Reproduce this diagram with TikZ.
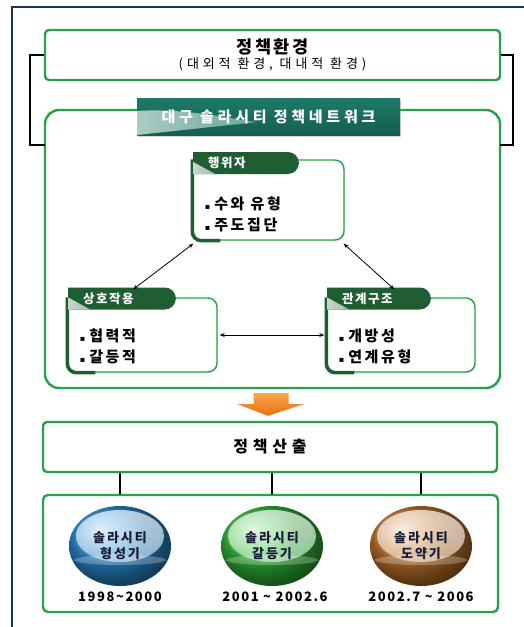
\documentclass[tikz,border=0pt]{standalone}
\usepackage{fontspec}
\setmainfont{Noto Sans CJK KR}
\newfontfamily\symfont{DejaVu Sans}
\usetikzlibrary{arrows.meta,shapes.geometric,shapes.misc,shadows,calc}

\definecolor{frameblue}{HTML}{1B3358}
\definecolor{boxgreen}{HTML}{27A24B}
\definecolor{tabgreen}{HTML}{1F5E33}
\definecolor{tealmain}{HTML}{1E7A68}
\definecolor{tealdark}{HTML}{155E50}
\definecolor{arrlight}{HTML}{FBA54A}
\definecolor{arrdark}{HTML}{E8700F}
\definecolor{textnavy}{HTML}{1A1A3A}
\definecolor{ballblue}{HTML}{2C92DC}
\definecolor{ballgreen}{HTML}{34C13C}
\definecolor{ballbrown}{HTML}{C97A2C}

\newcommand{\bul}{{\symfont\fontsize{8}{8}\selectfont ▪}\hspace{4pt}}

\begin{document}
\begin{tikzpicture}[x=1pt,y=-1pt,
  greenbox/.style={draw=boxgreen,line width=2.4pt,fill=white,rounded corners=4pt,
    drop shadow={shadow xshift=1pt,shadow yshift=-1pt,opacity=.25}},
  tabbox/.style={rounded rectangle,rounded rectangle west arc=none,fill=tabgreen,
    text=white,minimum height=22pt,inner xsep=15pt,align=left,
    font=\fontsize{12.5}{14}\selectfont\bfseries\addfontfeatures{LetterSpace=12},
    path picture={\shade[left color=white!75!tabgreen,right color=tabgreen]
      (path picture bounding box.south west) -- ++(0,-12) -- ++(22,12) -- cycle;}},
  bodybox/.style={draw=boxgreen,line width=1.4pt,fill=white,rounded corners=9pt,
    drop shadow={shadow xshift=1pt,shadow yshift=-1pt,opacity=.2}},
  listtext/.style={anchor=west,align=left,text=black,
    font=\fontsize{15}{21}\selectfont\bfseries\addfontfeatures{LetterSpace=18}},
  ballnode/.style={ellipse,minimum width=102pt,minimum height=80pt,align=center,
    ball color=#1,
    text=textnavy,font=\fontsize{13}{16}\selectfont\bfseries\addfontfeatures{LetterSpace=15},
    path picture={
      \shade[top color=white,bottom color=#1!45!white,opacity=.7]
        ($(path picture bounding box.north)+(0,30)$) ellipse (44pt and 26pt);
      \fill[white,opacity=.25] ($(path picture bounding box.center)+(0,14)$) ellipse (46pt and 5pt);}},
  yearlbl/.style={text=black,font=\fontsize{13}{15}\selectfont\bfseries\addfontfeatures{LetterSpace=12}},
  both/.style={{Stealth[length=5pt,width=4pt]}-{Stealth[length=5pt,width=4pt]},line width=.8pt},
  bracket/.style={line width=2pt,black},
  link/.style={line width=1.6pt,black}]
\useasboundingbox (0,0) rectangle (523,627);
\fill[white] (0,0) rectangle (523,627);
\draw[frameblue,line width=2pt] (12,660) -- (12,7) -- (560,7);

%environment
\node[greenbox,minimum width=455pt,minimum height=50pt,align=center] (env) at (272.5,55)
  {{\fontsize{17.5}{20}\selectfont\bfseries\addfontfeatures{LetterSpace=15}정책환경}\\[1pt]
   {\fontsize{13}{15}\selectfont\addfontfeatures{LetterSpace=30}(대외적 환경, 대내적 환경)}};

%network
\node[greenbox,rounded corners=14pt,minimum width=455pt,minimum height=278pt] (net) at (272.5,249) {};
\node[minimum width=263pt,minimum height=37pt,text=white,
  top color=tealmain,bottom color=tealdark,
  drop shadow={shadow xshift=1pt,shadow yshift=-2pt,opacity=.35},
  font=\fontsize{15}{17}\selectfont\bfseries\addfontfeatures{LetterSpace=25},
  path picture={\shade[left color=white!70!tealmain,right color=tealmain,opacity=.9]
    (path picture bounding box.south west) -- ++(0,-24)
    .. controls (20,-14) and (60,-5) .. (95,0) -- cycle;}]
  (banner) at (268.5,116.5) {대구 솔라시티 정책네트워크};

\coordinate (netL) at (45,145);
\coordinate (netR) at (500,145);
\draw[bracket] (env.west) -- (30,55) |- (netL);
\draw[bracket] (env.east) -- (513,55) |- (netR);

%actor
\node[bodybox,minimum width=151pt,minimum height=80pt] (actbody) at (268.5,200) {};
\draw[tabgreen,line width=3.5pt,rounded corners=9pt] (actbody.north west) |- ([xshift=28]actbody.south west);
\node[tabbox,text width=74pt,anchor=west] (acthead) at (193,163) {행위자};
\node[listtext] (actlist) at ($(actbody.west)+(9,14)$) {\bul 수와 유형\\\bul 주도집단};

%interaction
\node[bodybox,minimum width=149pt,minimum height=74pt] (intbody) at (142.5,335) {};
\draw[tabgreen,line width=3.5pt,rounded corners=9pt] (intbody.north west) |- ([xshift=28]intbody.south west);
\node[tabbox,text width=76pt,anchor=west] (inthead) at (68,298.5) {상호작용};
\node[listtext] (intlist) at ($(intbody.west)+(9,11)$) {\bul 협력적\\\bul 갈등적};

%structure
\node[bodybox,minimum width=148pt,minimum height=74pt] (relbody) at (401,335) {};
\draw[tabgreen,line width=3.5pt,rounded corners=9pt] (relbody.north west) |- ([xshift=28]relbody.south west);
\node[tabbox,text width=72pt,anchor=west] (relhead) at (327,298.5) {관계구조};
\node[listtext] (rellist) at ($(relbody.west)+(9,11)$) {\bul 개방성\\\bul 연계유형};

%paths
\draw[both] ([xshift=12,yshift=-2]inthead.north) -- ([xshift=1,yshift=-3]actbody.south west);
\draw[both] ([xshift=-1,yshift=-3]actbody.south east) -- ([xshift=16,yshift=-2]relhead.north);
\draw[both] ([xshift=2]intbody.east) -- ([xshift=-2]relbody.west);

%output
\node[greenbox,minimum width=454pt,minimum height=50pt,
  font=\fontsize{16}{18}\selectfont\bfseries\addfontfeatures{LetterSpace=30}] (out) at (270,447) {정책산출};
\shade[top color=arrlight,bottom color=arrdark]
  ($(net.south)+(-19,4)$) -- ++(35,0) -- ++(0,11) -- ++(15,0)
  -- ($(out.north)+(-2,-5)$) -- ($(net.south)+(-35,15)$) -- ++(16,0) -- cycle;

%phases
\node[greenbox,rounded corners=5pt,minimum width=455pt,minimum height=117pt] (phase) at (270.5,553.5) {};
\node[ballnode=ballblue] (b1) at (120,546) {솔라시티\\형성기};
\node[ballnode=ballgreen] (b2) at (272,546) {솔라시티\\갈등기};
\node[ballnode=ballbrown] (b3) at (421,546) {솔라시티\\도약기};
\node[yearlbl] (y1) at ($(b1.south)+(0,11)$) {1998\textasciitilde 2000};
\node[yearlbl] (y2) at ($(b2.south)+(3,11)$) {2001 \textasciitilde\ 2002.6};
\node[yearlbl] (y3) at ($(b3.south)+(0,11)$) {2002.7 \textasciitilde\ 2006};
\foreach \b in {b1,b2,b3}
  \draw[link] (out.south -| \b) -- (phase.north -| \b);
\end{tikzpicture}
\end{document}
